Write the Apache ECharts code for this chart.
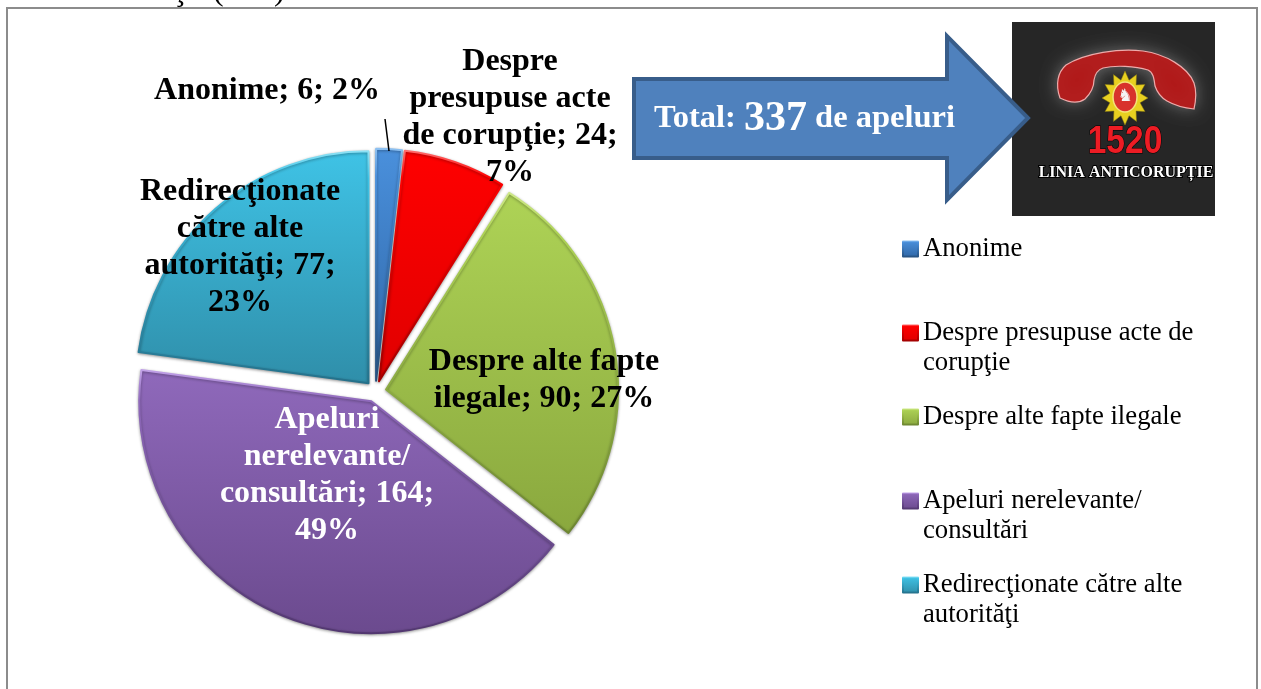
<!DOCTYPE html>
<html>
<head>
<meta charset="utf-8">
<style>
  html, body { margin: 0; padding: 0; background: #fff; overflow: hidden; }
  #main { width: 1261px; height: 689px; }
</style>
<script src="https://cdn.jsdelivr.net/npm/echarts@6/dist/echarts.min.js"></script>
</head>
<body>
<div id="main"></div>
<script>
var categories = ['Anonime', 'Despre presupuse acte de corupţie', 'Despre alte fapte ilegale', 'Apeluri nerelevante/ consultări', 'Redirecţionate către alte autorităţi'];
// the reference prints 164 for the purple slice but draws it about 140 wide (the total of 337 also needs 140)
var sliceValues = [6, 24, 90, 140, 77];
var printedValues = [6, 24, 90, 164, 77];
var printedPercents = [2, 7, 27, 49, 23];
var totalCalls = 337;

var labelLines = [
  ['Anonime; '],
  ['Despre', 'presupuse acte', 'de corupţie; '],
  ['Despre alte fapte', 'ilegale; '],
  ['Apeluri', 'nerelevante/', 'consultări; '],
  ['Redirecţionate', 'către alte', 'autorităţi; ']
];
var percentOnNewLine = [false, true, false, true, true];
var legendLines = [
  ['Anonime'],
  ['Despre presupuse acte de', 'corupţie'],
  ['Despre alte fapte ilegale'],
  ['Apeluri nerelevante/', 'consultări'],
  ['Redirecţionate către alte', 'autorităţi']
];
var labelCenters = [[267, 91], [510, 117], [544, 380], [327, 475], [240, 247]];
var labelColors = ['#000', '#000', '#000', '#fff', '#000'];
var sliceTop = ['#4a90dc', '#ff0000', '#aed356', '#8f69bb', '#3fc3e6'];
var sliceBottom = ['#2f66a6', '#e00000', '#8aa83e', '#6b4a8e', '#2f8ea9'];
var edgeTop = ['#8fc2f2', '#ff7070', '#cfe98a', '#c3a3ea', '#8fe2f5'];
var edgeBottom = ['#25507f', '#a00000', '#6c8530', '#523770', '#24708a'];

var serif = '"Liberation Serif", "Times New Roman", serif';

function grad(a, b) {
  return new echarts.graphic.LinearGradient(0, 0, 0, 1, [
    { offset: 0, color: a },
    { offset: 1, color: b }
  ]);
}

function edgeGrad(i) {
  return new echarts.graphic.LinearGradient(0, 0, 0, 1, [
    { offset: 0, color: edgeTop[i] },
    { offset: 0.12, color: sliceTop[i] },
    { offset: 1, color: edgeBottom[i] }
  ]);
}

function labelText(i) {
  var lines = labelLines[i].slice();
  var last = lines.length - 1;
  lines[last] += printedValues[i] + ';';
  if (percentOnNewLine[i]) {
    lines.push(printedPercents[i] + '%');
  } else {
    lines[last] += ' ' + printedPercents[i] + '%';
  }
  return lines.join('\n');
}

var pieData = categories.map(function (name, i) {
  return {
    name: name,
    value: sliceValues[i],
    selected: true,
    itemStyle: {
      color: grad(sliceTop[i], sliceBottom[i]),
      borderColor: edgeGrad(i),
      borderWidth: 2,
      shadowBlur: 3,
      shadowColor: 'rgba(0,0,0,0.35)',
      shadowOffsetY: 1
    }
  };
});

// data labels sit at hand-placed spots, over the slices
var labelElements = categories.map(function (name, i) {
  return {
    type: 'text',
    z: 20,
    silent: true,
    style: {
      x: labelCenters[i][0],
      y: labelCenters[i][1],
      text: labelText(i),
      align: 'center',
      verticalAlign: 'middle',
      font: 'bold 32px ' + serif,
      lineHeight: 37,
      fill: labelColors[i]
    }
  };
});

// star of the 1520 logo
var starPoints = [];
for (var s = 0; s < 24; s++) {
  var r = s % 2 === 0 ? 1 : 0.68;
  var a = s * Math.PI / 12 - Math.PI / 2;
  starPoints.push([1125 + r * 23 * Math.cos(a), 98 + r * 27 * Math.sin(a)]);
}

echarts.graphic.registerShape('handset', echarts.graphic.extendPath(
  'M1060 98 C1055 84 1058 72 1066 65 C1085 53 1120 48 1143 51 C1165 54 1188 67 1194 83 C1197 92 1196 100 1194 109 ' +
  'C1184 108 1174 105 1167 101 C1160 97 1157 92 1155 86 C1154 78 1153 72 1148 70 C1135 66 1115 65 1103 68 ' +
  'C1097 70 1095 74 1094 80 C1094 88 1090 94 1085 99 C1078 104 1068 102 1060 98 Z'
));

var chart = echarts.init(document.getElementById('main'));
chart.setOption({
  animation: false,
  backgroundColor: '#fff',
  legend: {
    orient: 'vertical',
    left: 902,
    top: 204,
    padding: 0,
    icon: 'rect',
    itemWidth: 15,
    itemHeight: 15,
    itemGap: -6,
    selectedMode: false,
    data: categories,
    formatter: function (name) {
      // three lines per entry: the marker sits on the middle one
      var lines = legendLines[categories.indexOf(name)];
      return '\n' + lines.join('\n') + (lines.length === 1 ? '\n' : '');
    },
    textStyle: {
      fontFamily: serif,
      fontSize: 26.7,
      lineHeight: 30,
      color: '#000'
    }
  },
  series: [{
    type: 'pie',
    center: [375.5, 391.4],
    radius: [0, 232],
    startAngle: 90,
    clockwise: true,
    selectedMode: 'multiple',
    selectedOffset: 10.7,
    emphasis: { disabled: true },
    label: { show: false },
    labelLine: { show: false },
    data: pieData
  }],
  graphic: labelElements.concat([
    // leader line of the Anonime label
    { type: 'line', z: 20, shape: { x1: 385, y1: 119, x2: 389, y2: 151 }, style: { stroke: '#000', lineWidth: 1.5 } },
    // clipped line of the page above the frame
    { type: 'text', z: 1, style: { x: 175, y: -24, text: 'ţ', font: '32px ' + serif, fill: '#000' } },
    { type: 'text', z: 1, style: { x: 213, y: -24, text: '(', font: '32px ' + serif, fill: '#000' } },
    { type: 'text', z: 1, style: { x: 274, y: -24, text: ')', font: '32px ' + serif, fill: '#000' } },
    { type: 'rect', z: 1, shape: { x: 7, y: 8, width: 1250, height: 690 }, style: { fill: 'none', stroke: '#8c8c8c', lineWidth: 2 } },
    // logo
    { type: 'rect', z: 5, shape: { x: 1012, y: 22, width: 203, height: 194 }, style: { fill: '#262626' } },
    {
      type: 'handset', z: 6,
      style: { fill: '#b01818', stroke: '#eeaaaa', lineWidth: 1.2, shadowBlur: 16, shadowColor: 'rgba(255,255,255,0.3)' }
    },
    { type: 'polygon', z: 7, shape: { points: starPoints }, style: { fill: '#e8d020', stroke: '#8a7a10', lineWidth: 0.5 } },
    { type: 'ellipse', z: 8, shape: { cx: 1125, cy: 97, rx: 12, ry: 15 }, style: { fill: '#d8322c', stroke: '#f4e27a', lineWidth: 1.5 } },
    { type: 'text', z: 9, style: { x: 1125, y: 97, text: '♞', align: 'center', verticalAlign: 'middle', font: '17px "DejaVu Sans"', fill: '#f4f4f4' } },
    { type: 'text', z: 7, x: 1125, y: 142, scaleX: 0.86, style: { x: 0, y: 0, text: '1520', align: 'center', verticalAlign: 'middle', font: 'bold 39px "Liberation Sans"', fill: '#ed1c24', stroke: '#000', lineWidth: 1 } },
    { type: 'text', z: 7, style: { x: 1126, y: 173, text: 'LINIA ANTICORUPȚIE', align: 'center', verticalAlign: 'middle', font: 'bold 16px ' + serif, fill: '#fff', stroke: '#000', lineWidth: 2 } },
    // arrow, its tip lies over the logo
    {
      type: 'polygon', z: 9,
      shape: { points: [[634, 79], [947, 79], [947, 36], [1028, 118], [947, 200], [947, 158], [634, 158]] },
      style: { fill: '#4f81bd', stroke: '#385d8a', lineWidth: 4 }
    },
    {
      type: 'text', z: 10,
      style: {
        x: 654, y: 119, verticalAlign: 'middle',
        text: '{a|Total: }{b|' + totalCalls + '}{a| de apeluri}',
        rich: {
          a: { fontFamily: serif, fontWeight: 'bold', fontSize: 32.5, fill: '#fff', color: '#fff' },
          b: { fontFamily: serif, fontWeight: 'bold', fontSize: 42, fill: '#fff', color: '#fff' }
        }
      }
    }
  ])
});
</script>
</body>
</html>
